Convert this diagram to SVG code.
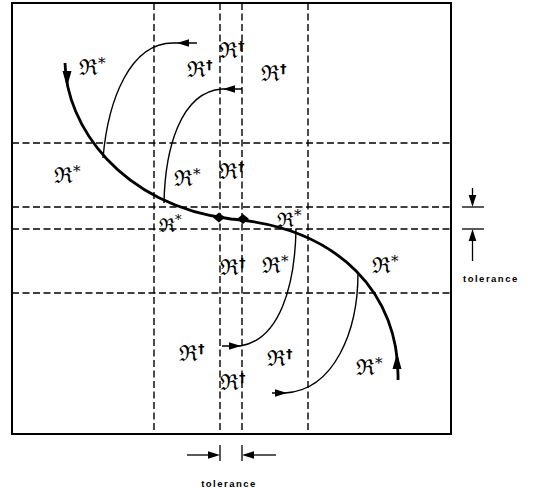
<svg xmlns="http://www.w3.org/2000/svg" xmlns:xlink="http://www.w3.org/1999/xlink" width="536" height="493" viewBox="0 0 536 493">
<style>
.frame{fill:none;stroke:#000;stroke-width:2}
.grid{fill:none;stroke:#000;stroke-width:1.4;stroke-dasharray:7 3.5}
.thick{fill:none;stroke:#000;stroke-width:2.8}
.thin{fill:none;stroke:#000;stroke-width:1.4}
.dim{fill:none;stroke:#000;stroke-width:1.3}
.ah{fill:#000}
.lbl{font-family:"DejaVu Serif","Liberation Serif",serif;font-size:22px;fill:#000}
.sup{font-size:15px}
.dag{font-family:"DejaVu Sans","Liberation Sans",sans-serif;font-size:13px;font-weight:bold}
.tol{font-family:"Liberation Sans","DejaVu Sans",sans-serif;font-size:9.5px;font-weight:bold;letter-spacing:1.5px;fill:#000}
</style>
<defs>
<path id="ah" d="M0,0 L-12,-3.8 L-12,3.8 Z"/>
<path id="ahb" d="M0,0 L-16,-4.5 L-16,4.5 Z"/>
<path id="dia" d="M-6,0 L0,-5 L6,0 L0,5 Z"/>
</defs>
<g id="frame">
<rect class="frame" x="12" y="3" width="439" height="431"/>
</g>
<g id="grid">
<line class="grid" x1="154" y1="3" x2="154" y2="434"/>
<line class="grid" x1="220" y1="3" x2="220" y2="434"/>
<line class="grid" x1="242" y1="3" x2="242" y2="434"/>
<line class="grid" x1="308" y1="3" x2="308" y2="434"/>
<line class="grid" x1="12" y1="143" x2="451" y2="143"/>
<line class="grid" x1="12" y1="207" x2="451" y2="207"/>
<line class="grid" x1="12" y1="229" x2="451" y2="229"/>
<line class="grid" x1="12" y1="293" x2="451" y2="293"/>
</g>
<g id="connectors">
<path class="thick" d="M65,63 C66,125 120,205 231,219 C340,228 400,295 398,380"/>
<use xlink:href="#ahb" class="ah" transform="translate(67,87) rotate(90)"/>
<use xlink:href="#ahb" class="ah" transform="translate(397,353) rotate(-90)"/>
<use xlink:href="#dia" class="ah" transform="translate(219,217.5)"/>
<use xlink:href="#dia" class="ah" transform="translate(243,219)"/>
<path class="thin" d="M103,158 C108,100 130,43 173,43 L197,43"/>
<use xlink:href="#ah" class="ah" transform="translate(177,43) rotate(180)"/>
<path class="thin" d="M164,203 C165,150 180,92 222,89 L242,89"/>
<use xlink:href="#ah" class="ah" transform="translate(223,89) rotate(180)"/>
<path class="thin" d="M296,229 C295,285 280,340 240,346 L222,346"/>
<use xlink:href="#ah" class="ah" transform="translate(241,346)"/>
<path class="thin" d="M358,273 C358,330 335,390 285,393 L272,393"/>
<use xlink:href="#ah" class="ah" transform="translate(287,393)"/>
</g>
<g id="tolerance-right">
<line class="dim" x1="462" y1="207" x2="484" y2="207"/>
<line class="dim" x1="462" y1="229" x2="484" y2="229"/>
<line class="dim" x1="472.5" y1="188" x2="472.5" y2="200"/>
<use xlink:href="#ah" class="ah" transform="translate(472.5,207) rotate(90)"/>
<line class="dim" x1="472.5" y1="236" x2="472.5" y2="261"/>
<use xlink:href="#ah" class="ah" transform="translate(472.5,229) rotate(-90)"/>
<text class="tol" x="463" y="282">tolerance</text>
</g>
<g id="tolerance-bottom">
<line class="dim" x1="220" y1="445" x2="220" y2="461"/>
<line class="dim" x1="242" y1="445" x2="242" y2="461"/>
<line class="dim" x1="187" y1="455" x2="212" y2="455"/>
<use xlink:href="#ah" class="ah" transform="translate(220,455)"/>
<line class="dim" x1="250" y1="455" x2="276" y2="455"/>
<use xlink:href="#ah" class="ah" transform="translate(242,455) rotate(180)"/>
<text class="tol" x="229" y="487" text-anchor="middle">tolerance</text>
</g>
<g id="labels">
<text class="lbl" x="79" y="75">ℜ<tspan class="sup" dy="-7">*</tspan></text>
<text class="lbl" x="187" y="77">ℜ<tspan class="dag" dy="-8">†</tspan></text>
<text class="lbl" x="219" y="58">ℜ<tspan class="dag" dy="-8">†</tspan></text>
<text class="lbl" x="261" y="81">ℜ<tspan class="dag" dy="-8">†</tspan></text>
<text class="lbl" x="54" y="183">ℜ<tspan class="sup" dy="-7">*</tspan></text>
<text class="lbl" x="174" y="186">ℜ<tspan class="sup" dy="-7">*</tspan></text>
<text class="lbl" x="219" y="179">ℜ<tspan class="dag" dy="-8">†</tspan></text>
<text class="lbl" x="159" y="232" style="font-size:19px">ℜ<tspan class="sup" dy="-8" style="font-size:13px">*</tspan></text>
<text class="lbl" x="277" y="227" style="font-size:20px">ℜ<tspan class="sup" dy="-7">*</tspan></text>
<text class="lbl" x="220" y="275">ℜ<tspan class="dag" dy="-8">†</tspan></text>
<text class="lbl" x="262" y="273">ℜ<tspan class="sup" dy="-7">*</tspan></text>
<text class="lbl" x="372" y="273">ℜ<tspan class="sup" dy="-7">*</tspan></text>
<text class="lbl" x="179" y="361">ℜ<tspan class="dag" dy="-8">†</tspan></text>
<text class="lbl" x="220" y="390">ℜ<tspan class="dag" dy="-8">†</tspan></text>
<text class="lbl" x="267" y="366">ℜ<tspan class="dag" dy="-8">†</tspan></text>
<text class="lbl" x="356" y="375">ℜ<tspan class="sup" dy="-7">*</tspan></text>
</g>
</svg>
